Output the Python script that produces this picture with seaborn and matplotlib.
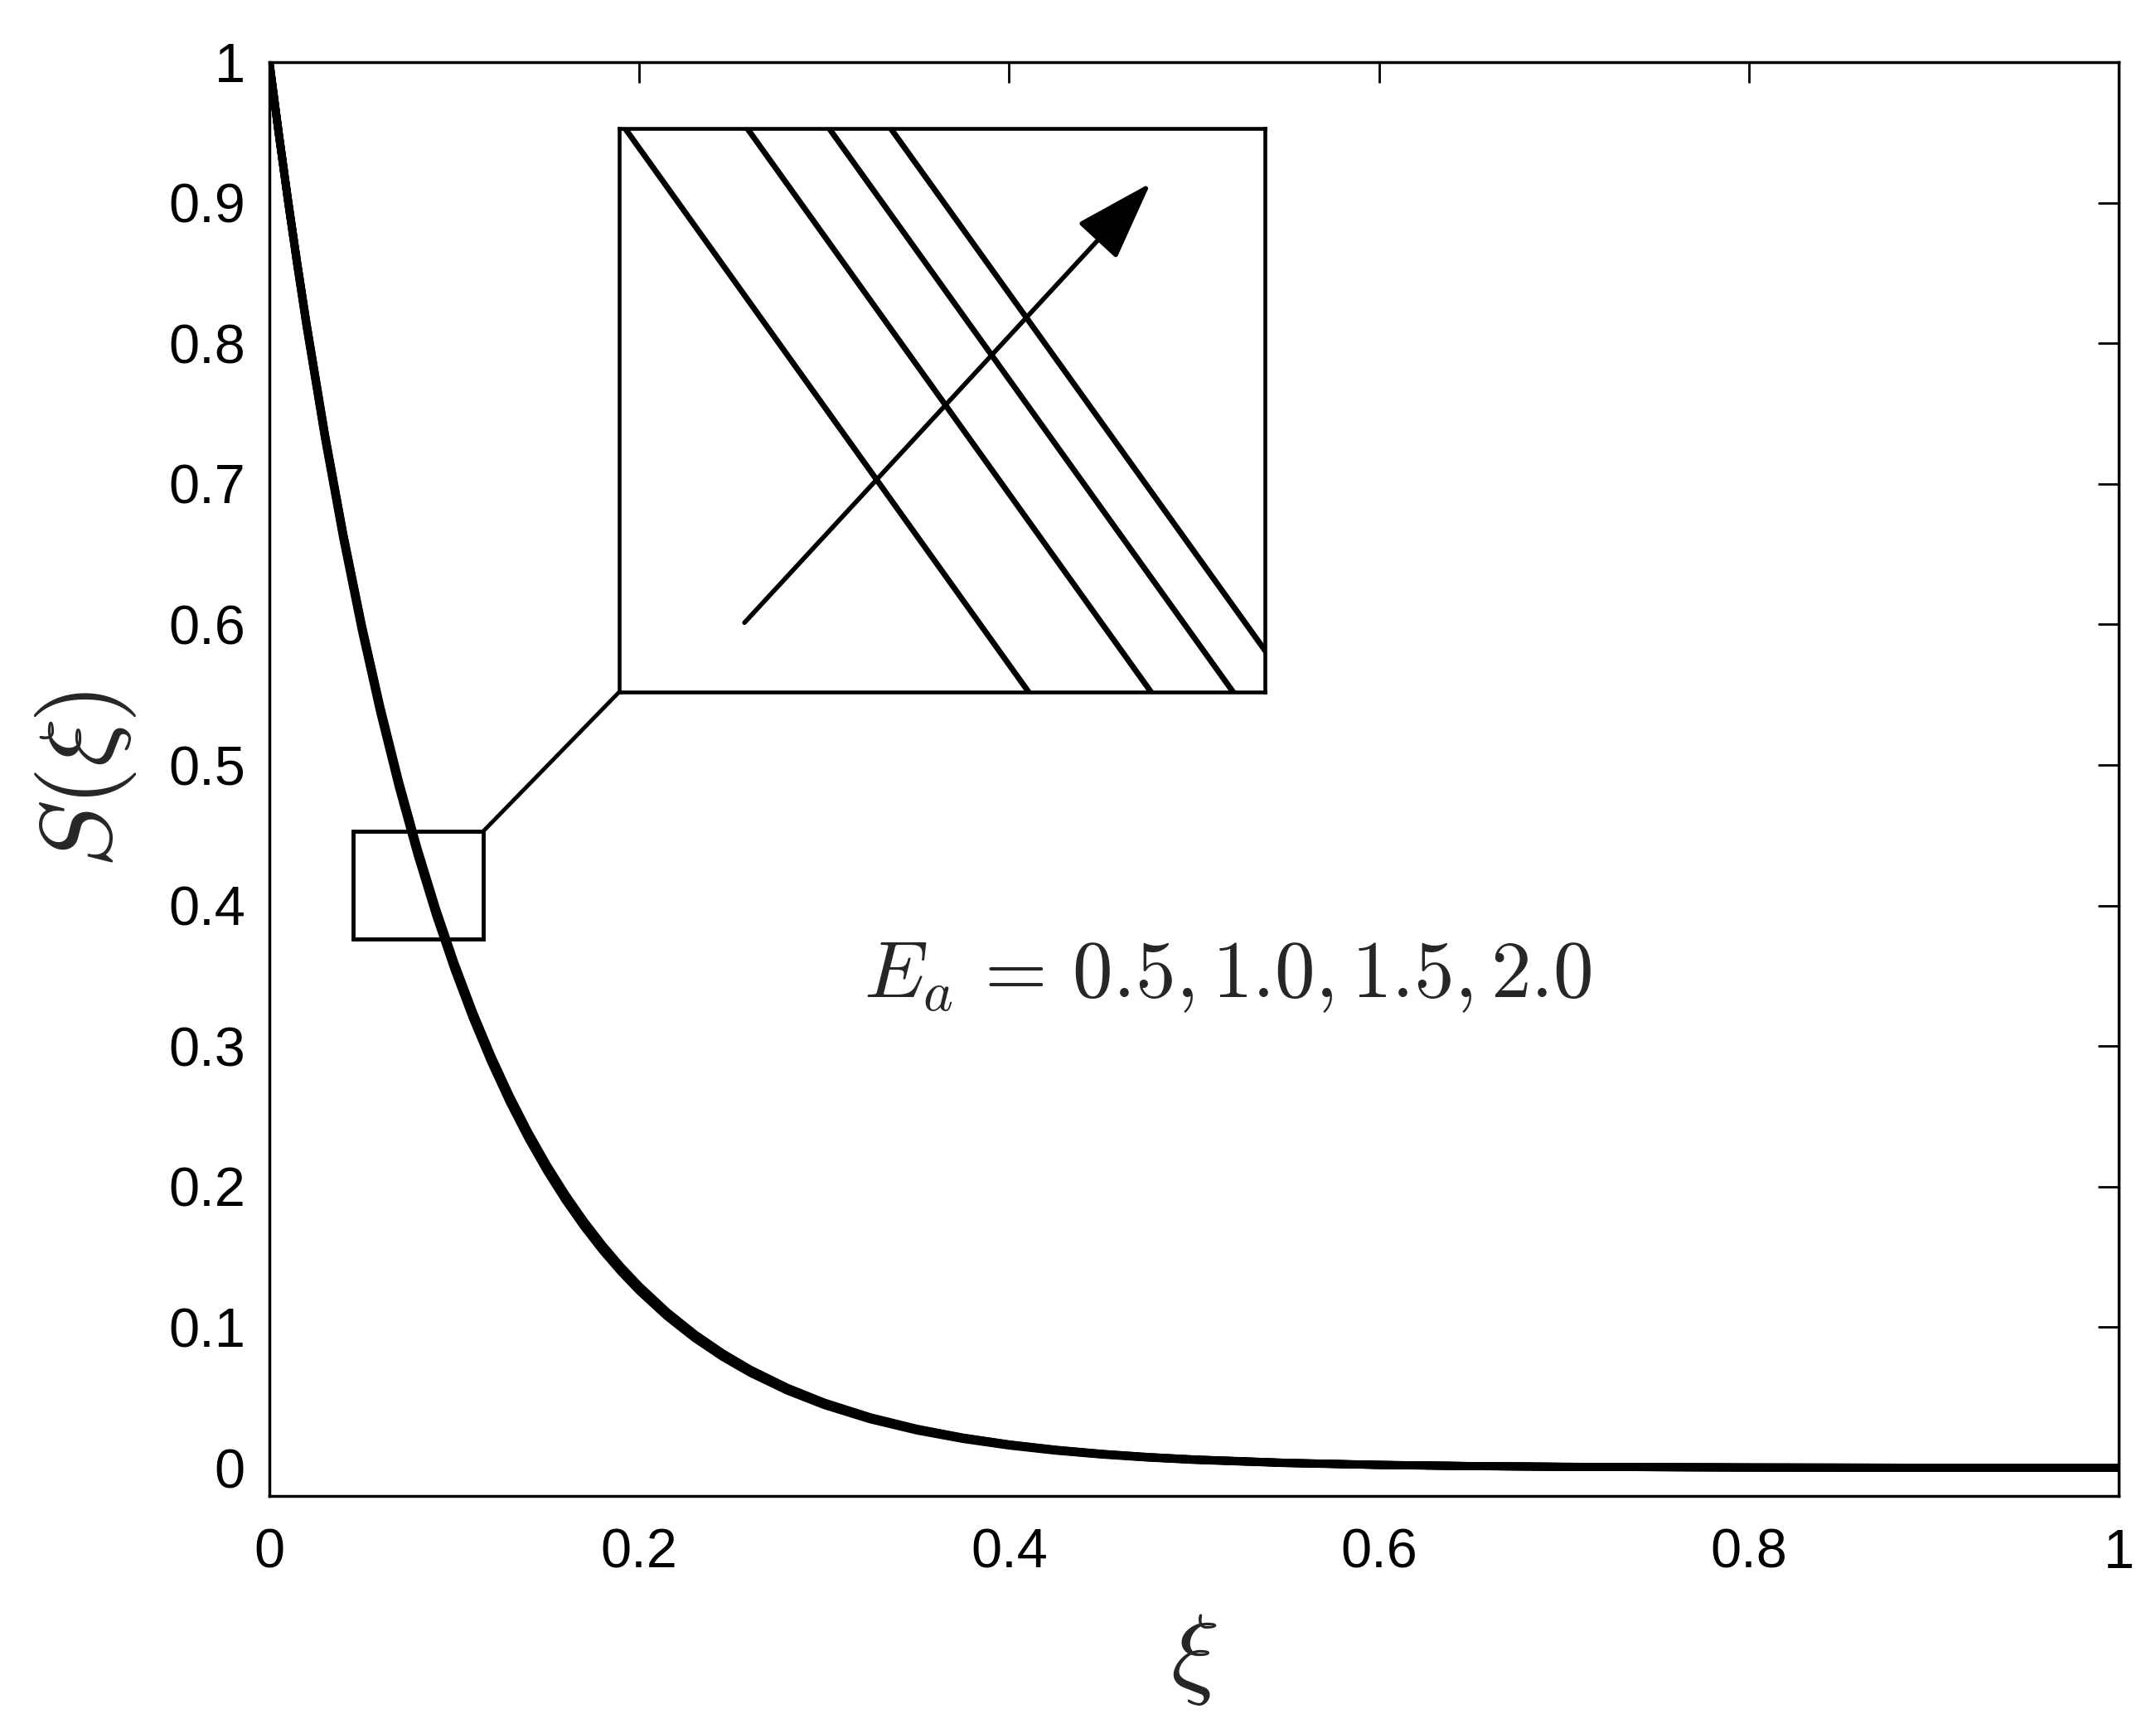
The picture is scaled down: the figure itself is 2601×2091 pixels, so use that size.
import numpy as np
import pandas as pd
import matplotlib.pyplot as plt
import seaborn as sns
from matplotlib.patches import Rectangle, ConnectionPatch
from matplotlib.ticker import FuncFormatter

# ---------- data ----------
xi = [0.0, 0.005, 0.01, 0.015, 0.02, 0.03, 0.04, 0.05, 0.06, 0.07, 0.08, 0.09,
      0.10, 0.11, 0.12, 0.13, 0.14, 0.15, 0.16, 0.17, 0.18, 0.19, 0.20, 0.215,
      0.23, 0.245, 0.26, 0.28, 0.30, 0.325, 0.35, 0.375, 0.40, 0.425, 0.45,
      0.475, 0.50, 0.55, 0.60, 0.65, 0.70, 0.80, 0.90, 1.00]

S_ea05 = [1.0, 0.94952, 0.90158, 0.85607, 0.81286, 0.73286, 0.66074, 0.59571,
          0.53708, 0.48423, 0.43657, 0.39361, 0.35487, 0.31995, 0.28846, 0.26007,
          0.23448, 0.21140, 0.19060, 0.17185, 0.15493, 0.13968, 0.12593, 0.10781,
          0.09229, 0.07901, 0.06764, 0.05498, 0.04469, 0.03449, 0.02662, 0.02055,
          0.01586, 0.01224, 0.00945, 0.00729, 0.00563, 0.00335, 0.00200, 0.00119,
          0.00071, 0.00025, 0.00009, 0.00003]
S_ea10 = [1.0, 0.94980, 0.90213, 0.85684, 0.81383, 0.73418, 0.66233, 0.59750,
          0.53902, 0.48627, 0.438674, 0.395740, 0.35701, 0.32207, 0.29054, 0.26211,
          0.23645, 0.21331, 0.19244, 0.17360, 0.15661, 0.14128, 0.12745, 0.10921,
          0.09357, 0.08018, 0.06870, 0.05591, 0.04550, 0.03517, 0.02719, 0.02102,
          0.01625, 0.01256, 0.00971, 0.00750, 0.00580, 0.00347, 0.00207, 0.00124,
          0.00074, 0.00026, 0.00009, 0.00003]
S_ea15 = [1.0, 0.94999, 0.90249, 0.85736, 0.81448, 0.73506, 0.66338, 0.59870,
          0.54032, 0.48763, 0.44008, 0.39717, 0.35844, 0.32349, 0.29194, 0.26347,
          0.23778, 0.21460, 0.19367, 0.17479, 0.15774, 0.14236, 0.12848, 0.11015,
          0.09444, 0.08097, 0.06942, 0.05654, 0.04605, 0.03563, 0.02757, 0.02133,
          0.01651, 0.01277, 0.00988, 0.00765, 0.00592, 0.00354, 0.00212, 0.00127,
          0.00076, 0.00027, 0.00010, 0.00004]
S_ea20 = [1.0, 0.95013, 0.90276, 0.85774, 0.81497, 0.73572, 0.66418, 0.59960,
          0.54129, 0.48865, 0.44114, 0.39824, 0.35951, 0.32456, 0.29300, 0.26450,
          0.23878, 0.21556, 0.19460, 0.17568, 0.15860, 0.14317, 0.12925, 0.11087,
          0.09509, 0.08157, 0.06996, 0.05702, 0.04647, 0.03598, 0.02786, 0.02157,
          0.01671, 0.01294, 0.01002, 0.00776, 0.00601, 0.00360, 0.00216, 0.00129,
          0.00078, 0.00028, 0.00010, 0.00004]

ea_labels = ["0.5", "1.0", "1.5", "2.0"]
series = [S_ea05, S_ea10, S_ea15, S_ea20]

x_ticks = [0, 0.2, 0.4, 0.6, 0.8, 1]
y_ticks = [0, 0.1, 0.2, 0.3, 0.4, 0.5, 0.6, 0.7, 0.8, 0.9, 1]

df = pd.concat(
    [pd.DataFrame({"xi": xi, "S": s, "Ea": lab}) for lab, s in zip(ea_labels, series)],
    ignore_index=True,
)

# ---------- style ----------
sns.set_theme(style="white")
plt.rcParams["font.family"] = ["Liberation Sans", "DejaVu Sans"]
plt.rcParams["mathtext.fontset"] = "cm"
pal = {lab: "black" for lab in ea_labels}

fig = plt.figure(figsize=(26.01, 20.91), dpi=100)
ax = fig.add_axes([0.12495, 0.13678, 0.85775, 0.82735])

sns.lineplot(data=df, x="xi", y="S", hue="Ea", palette=pal, legend=False,
             errorbar=None, linewidth=7, ax=ax)

ax.set_xlim(0, 1)
ax.set_ylim(-0.02, 1)
ax.set_xticks(x_ticks)
ax.set_yticks(y_ticks)
fmt = FuncFormatter(lambda v, p: f"{v:g}")
ax.xaxis.set_major_formatter(fmt)
ax.yaxis.set_major_formatter(fmt)
ax.tick_params(direction="in", length=18, width=2, top=True, right=True,
               labelsize=48, colors="black")
ax.tick_params(axis="x", pad=28)
ax.tick_params(axis="y", pad=21)
for sp in ax.spines.values():
    sp.set_linewidth(2.5)
    sp.set_color("black")

ax.set_xlabel(r"$\xi$", fontsize=88, va="center")
ax.set_ylabel(r"$S(\xi)$", fontsize=88, va="center")
ax.xaxis.set_label_coords(0.5, -0.114)
ax.yaxis.set_label_coords(-0.0995, 0.5)

ax.text(0.3214, 0.335, r"$E_a\,=\,0.5, 1.0, 1.5, 2.0$", fontsize=70,
        ha="left", va="baseline")

# zoom box
ax.add_patch(Rectangle((0.0451, 0.376), 0.0705, 0.0768, fill=False,
                       lw=3.5, ec="black", zorder=5))

# ---------- inset ----------
ins = fig.add_axes([0.2872, 0.6007, 0.2995, 0.3252])
sns.lineplot(data=df, x="xi", y="S", hue="Ea", palette=pal, legend=False,
             errorbar=None, linewidth=5, ax=ins)
ins.set_xlim(0.0830, 0.0856)
ins.set_ylim(0.41660, 0.42358)
ins.set_xticks([])
ins.set_yticks([])
ins.set_xlabel("")
ins.set_ylabel("")
for sp in ins.spines.values():
    sp.set_linewidth(3.3)
    sp.set_color("black")

ins.annotate("", xy=(0.823, 0.903), xytext=(0.194, 0.123),
             xycoords="axes fraction", textcoords="axes fraction",
             arrowprops=dict(arrowstyle="-|>,head_length=0.6,head_width=0.2",
                             mutation_scale=100, lw=4, color="black",
                             shrinkA=0, shrinkB=0))

con = ConnectionPatch(xyA=(0.1156, 0.4528), coordsA=ax.transData,
                      xyB=(0, 0), coordsB=ins.transAxes, lw=3.5, color="black")
fig.add_artist(con)

fig.savefig("out.png", dpi=100)
